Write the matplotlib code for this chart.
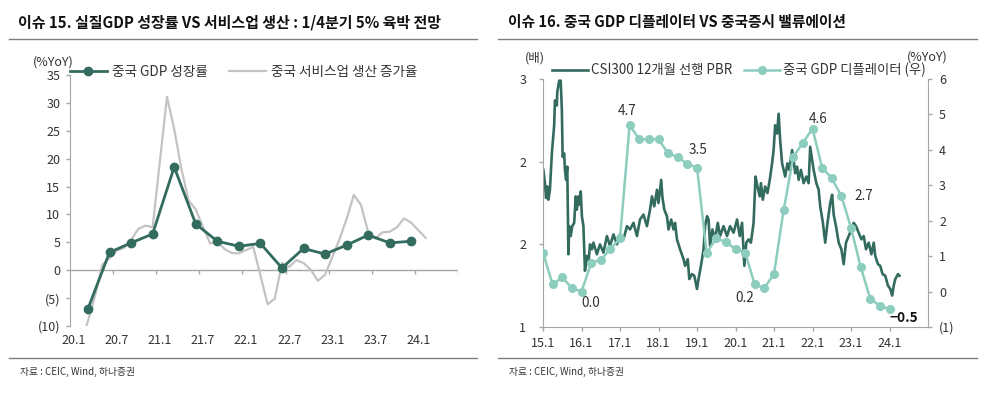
import numpy as np
import matplotlib.pyplot as plt
from matplotlib.lines import Line2D
from matplotlib.ticker import FuncFormatter

plt.rcParams['font.family'] = ['Noto Sans CJK KR', 'DejaVu Sans']

# ---- left chart: China real GDP vs services production (%YoY) ----
gdp_months = ['2020-03', '2020-06', '2020-09', '2020-12', '2021-03', '2021-06', '2021-09', '2021-12',
              '2022-03', '2022-06', '2022-09', '2022-12', '2023-03', '2023-06', '2023-09', '2023-12']
gdp_growth = [-6.9, 3.2, 4.9, 6.5, 18.5, 8.3, 5.2, 4.3, 4.8, 0.4, 3.9, 2.9, 4.5, 6.3, 4.9, 5.2]

svc_months = ['2020-02', '2020-03', '2020-04', '2020-05', '2020-06', '2020-07', '2020-08', '2020-09',
              '2020-10', '2020-11', '2020-12', '2021-02', '2021-03', '2021-04', '2021-05', '2021-06',
              '2021-07', '2021-08', '2021-09', '2021-10', '2021-11', '2021-12', '2022-02', '2022-03',
              '2022-04', '2022-05', '2022-06', '2022-07', '2022-08', '2022-09', '2022-10', '2022-11',
              '2022-12', '2023-02', '2023-03', '2023-04', '2023-05', '2023-06', '2023-07', '2023-08',
              '2023-09', '2023-10', '2023-11', '2023-12', '2024-02']
svc_growth = [-13.0, -9.1, -4.5, 1.0, 2.2, 3.5, 4.0, 5.4, 7.4, 8.0, 7.7, 31.1, 25.3, 18.2, 12.5, 10.9,
              7.8, 4.8, 5.2, 3.8, 3.1, 3.0, 4.2, -0.9, -6.1, -5.1, 1.3, 0.6, 1.8, 1.3, 0.1, -1.9,
              -0.8, 5.5, 9.2, 13.5, 11.7, 6.8, 5.7, 6.8, 6.9, 7.7, 9.3, 8.5, 5.8]

left_xlabels = ['20.1', '20.7', '21.1', '21.7', '22.1', '22.7', '23.1', '23.7', '24.1']

# ---- right chart: CSI300 12M fwd PBR vs GDP deflator ----
pbr_dates = [2015.01, 2015.05, 2015.08, 2015.11, 2015.14, 2015.18, 2015.23, 2015.29, 2015.31, 2015.36,
             2015.37, 2015.42, 2015.46, 2015.49, 2015.51, 2015.55, 2015.57, 2015.60, 2015.63, 2015.66,
             2015.68, 2015.72, 2015.76, 2015.81, 2015.85, 2015.88, 2015.92, 2015.94, 2015.98, 2016.01,
             2016.05, 2016.09, 2016.14, 2016.18, 2016.22, 2016.27, 2016.31, 2016.40, 2016.48, 2016.57,
             2016.66, 2016.74, 2016.83, 2016.92, 2017.00, 2017.09, 2017.18, 2017.26, 2017.35, 2017.44,
             2017.52, 2017.61, 2017.70, 2017.78, 2017.83, 2017.89, 2017.96, 2018.00, 2018.07, 2018.10,
             2018.15, 2018.22, 2018.26, 2018.33, 2018.39, 2018.43, 2018.48, 2018.56, 2018.65, 2018.69,
             2018.76, 2018.80, 2018.87, 2018.93, 2019.00, 2019.04, 2019.11, 2019.17, 2019.21, 2019.26,
             2019.30, 2019.34, 2019.40, 2019.47, 2019.54, 2019.60, 2019.69, 2019.78, 2019.86, 2019.95,
             2020.04, 2020.11, 2020.17, 2020.23, 2020.28, 2020.34, 2020.40, 2020.47, 2020.52, 2020.57,
             2020.63, 2020.66, 2020.71, 2020.77, 2020.83, 2020.89, 2020.95, 2020.99, 2021.03, 2021.08,
             2021.12, 2021.16, 2021.21, 2021.25, 2021.29, 2021.35, 2021.40, 2021.47, 2021.51, 2021.55,
             2021.60, 2021.64, 2021.70, 2021.77, 2021.84, 2021.90, 2021.94, 2021.99, 2022.03, 2022.10,
             2022.16, 2022.20, 2022.27, 2022.33, 2022.39, 2022.46, 2022.51, 2022.55, 2022.61, 2022.68,
             2022.75, 2022.81, 2022.87, 2022.94, 2023.01, 2023.07, 2023.13, 2023.20, 2023.27, 2023.33,
             2023.39, 2023.46, 2023.53, 2023.59, 2023.63, 2023.70, 2023.76, 2023.82, 2023.89, 2023.96,
             2024.02, 2024.07, 2024.11, 2024.15, 2024.22, 2024.26]
pbr = [1.95, 1.87, 1.78, 1.85, 1.77, 1.83, 2.05, 2.22, 2.37, 2.34,
       2.42, 2.49, 2.49, 2.31, 2.03, 2.05, 1.95, 1.89, 1.97, 1.44,
       1.61, 1.55, 1.61, 1.63, 1.79, 1.71, 1.79, 1.74, 1.82, 1.67,
       1.61, 1.34, 1.43, 1.38, 1.50, 1.47, 1.51, 1.44, 1.50, 1.45,
       1.55, 1.49, 1.56, 1.50, 1.56, 1.53, 1.61, 1.59, 1.63, 1.55,
       1.65, 1.68, 1.61, 1.71, 1.79, 1.73, 1.83, 1.75, 1.89, 1.79,
       1.71, 1.67, 1.59, 1.65, 1.59, 1.63, 1.53, 1.47, 1.41, 1.37,
       1.41, 1.29, 1.32, 1.31, 1.23, 1.29, 1.38, 1.47, 1.61, 1.67,
       1.65, 1.49, 1.59, 1.53, 1.63, 1.55, 1.61, 1.55, 1.61, 1.57,
       1.65, 1.55, 1.63, 1.37, 1.51, 1.53, 1.51, 1.63, 1.91, 1.85,
       1.79, 1.87, 1.77, 1.85, 1.81, 1.89, 1.99, 2.07, 2.22, 2.17,
       2.29, 2.13, 1.99, 1.95, 1.91, 1.99, 1.95, 2.07, 2.01, 1.93,
       1.97, 1.89, 1.95, 1.87, 1.91, 1.87, 2.09, 2.01, 1.95, 1.87,
       1.83, 1.73, 1.63, 1.51, 1.63, 1.75, 1.80, 1.68, 1.61, 1.51,
       1.47, 1.38, 1.51, 1.55, 1.59, 1.63, 1.61, 1.57, 1.53, 1.55,
       1.47, 1.51, 1.44, 1.51, 1.43, 1.38, 1.37, 1.32, 1.31, 1.25,
       1.23, 1.19, 1.25, 1.29, 1.32, 1.31]

deflator = [1.1, 0.2, 0.4, 0.1, 0.0, 0.8, 0.9, 1.2, 1.5, 4.7, 4.3, 4.3, 4.3, 3.9, 3.8, 3.6, 3.5,
            1.1, 1.5, 1.4, 1.2, 1.1, 0.2, 0.1, 0.5, 2.3, 3.8, 4.2, 4.6, 3.5, 3.2, 2.7, 1.8, 0.7,
            -0.2, -0.4, -0.5]
defl_dates = 2015 + 0.25 * np.arange(len(deflator))
defl_labels = {9: '4.7', 16: '3.5', 4: '0.0', 22: '0.2', 28: '4.6', 31: '2.7', 36: '\u22120.5'}
right_xlabels = ['15.1', '16.1', '17.1', '18.1', '19.1', '20.1', '21.1', '22.1', '23.1', '24.1']

dark = '#336b5f'
light = '#8dcdbe'
grey = '#c3c3c3'
axis_c = '#a6a6a6'
txt = '#333333'

W, H = 988, 393
fig = plt.figure(figsize=(W / 100, H / 100), dpi=100)


def fx(p):
    return p / W


def fy(p):
    return 1 - p / H


def paren(v, pos=None):
    return f'({abs(v):.0f})' if v < 0 else f'{v:.0f}'


# titles, rules, source notes
fig.text(fx(18), fy(22), '이슈 15. 실질GDP 성장률 VS 서비스업 생산 : 1/4분기 5% 육박 전망',
         fontsize=10.8, fontweight='bold', va='center', color='#111111')
fig.text(fx(508), fy(22), '이슈 16. 중국 GDP 디플레이터 VS 중국증시 밸류에이션',
         fontsize=10.6, fontweight='bold', va='center', color='#111111')
for x0, x1 in [(9, 477), (498, 977)]:
    fig.add_artist(Line2D([fx(x0), fx(x1)], [fy(39), fy(39)], color='#7f7f7f', lw=1.0))
    fig.add_artist(Line2D([fx(x0), fx(x1)], [fy(358), fy(358)], color='#7f7f7f', lw=1.0))
fig.text(fx(20), fy(372), '자료 : CEIC, Wind, 하나증권', fontsize=7, va='center', color=txt)
fig.text(fx(509), fy(372), '자료 : CEIC, Wind, 하나증권', fontsize=7, va='center', color=txt)

# ---------------- left chart ----------------
ax = fig.add_axes([fx(70), fy(326), fx(458 - 70), (326 - 75) / H])
gdp_x = [(int(m[:4]) - 2020) * 12 + int(m[5:]) - 1 + 0.5 for m in gdp_months]
svc_x = [(int(m[:4]) - 2020) * 12 + int(m[5:]) - 1 + 0.5 for m in svc_months]
ax.plot(svc_x, svc_growth, color=grey, lw=1.6, zorder=2)
ax.plot(gdp_x, gdp_growth, color=dark, lw=2.0, marker='o', ms=6, zorder=3)
ax.set_xlim(0, 54)
ax.set_ylim(-10, 35)
ax.set_yticks(np.arange(-10, 36, 5))
ax.yaxis.set_major_formatter(FuncFormatter(paren))
ax.axhline(0, color=axis_c, lw=1.0, zorder=1)
ax.vlines(np.arange(6, 55, 6), -0.75, 0, color=axis_c, lw=1.0, zorder=1)
ax.set_xticks(np.arange(0, 54, 6) + 0.5)
ax.set_xticklabels(left_xlabels)
ax.tick_params(axis='x', length=0, pad=6, labelsize=9, labelcolor=txt)
ax.tick_params(axis='y', length=3, width=1, color=axis_c, pad=4, labelsize=9, labelcolor=txt)
for s in ['top', 'right', 'bottom']:
    ax.spines[s].set_visible(False)
ax.spines['left'].set_color(axis_c)
fig.text(fx(53), fy(62), '(%YoY)', fontsize=9, ha='center', va='center', color=txt)
h1 = [Line2D([], [], color=dark, lw=2.0, marker='o', ms=6),
      Line2D([], [], color=grey, lw=1.6)]
fig.legend(h1, ['중국 GDP 성장률', '중국 서비스업 생산 증가율'], loc='center left',
           bbox_to_anchor=(fx(70), fy(72)), ncol=2, frameon=False, fontsize=9.8,
           handlelength=2.7, handletextpad=0.35, columnspacing=1.6, borderpad=0,
           borderaxespad=0, labelcolor=txt)

# ---------------- right chart ----------------
bx = fig.add_axes([fx(543), fy(327), fx(928 - 543), (327 - 79) / H])
bx.plot(pbr_dates, pbr, color=dark, lw=1.9)
bx.set_xlim(2015, 2025)
bx.set_ylim(1, 2.5)
bx.set_yticks([1, 1.5, 2, 2.5])
bx.set_yticklabels(['1', '2', '2', '3'])
bx.set_xticks(np.arange(2015, 2025))
bx.set_xticklabels(right_xlabels)
bx.tick_params(axis='x', length=3, width=1, color=axis_c, pad=4, labelsize=9, labelcolor=txt)
bx.tick_params(axis='y', length=3, width=1, color=axis_c, pad=9, labelsize=9, labelcolor=txt)
for s in ['left', 'bottom']:
    bx.spines[s].set_color(axis_c)
bx.spines['top'].set_visible(False)
bx.spines['right'].set_visible(False)

rx = bx.twinx()
rx.plot(defl_dates, deflator, color=light, lw=1.8, marker='o', ms=5.5)
rx.set_ylim(-1, 6)
rx.set_yticks(np.arange(-1, 7))
rx.yaxis.set_major_formatter(FuncFormatter(paren))
rx.tick_params(axis='y', length=3, width=1, color=axis_c, pad=5, labelsize=9, labelcolor=txt)
rx.spines['right'].set_color(axis_c)
for s in ['top', 'left', 'bottom']:
    rx.spines[s].set_visible(False)

offsets = {9: (-2, 10), 16: (1, 13), 4: (6.5, -8), 22: (-7, -9.5), 28: (4, 7), 31: (16, 0), 36: (10, -6)}
for i, lab in defl_labels.items():
    dx, dy = offsets[i]
    rx.annotate(lab, (defl_dates[i], deflator[i]), xytext=(dx, dy), textcoords='offset points',
                ha='center', va='center', fontsize=9.8, color=txt if i != 36 else '#111111',
                fontweight='bold' if i == 36 else 'normal')

fig.text(fx(535), fy(58), '(배)', fontsize=9, ha='center', va='center', color=txt)
fig.text(fx(927), fy(57), '(%YoY)', fontsize=9, ha='center', va='center', color=txt)
h2 = [Line2D([], [], color=dark, lw=1.9),
      Line2D([], [], color=light, lw=1.8, marker='o', ms=5.5)]
fig.legend(h2, ['CSI300 12개월 선행 PBR', '중국 GDP 디플레이터 (우)'], loc='center left',
           bbox_to_anchor=(fx(552), fy(70)), ncol=2, frameon=False, fontsize=9.6,
           handlelength=2.7, handletextpad=0.2, columnspacing=0.9, borderpad=0,
           borderaxespad=0, labelcolor=txt)

fig.savefig('out.png', dpi=100)
